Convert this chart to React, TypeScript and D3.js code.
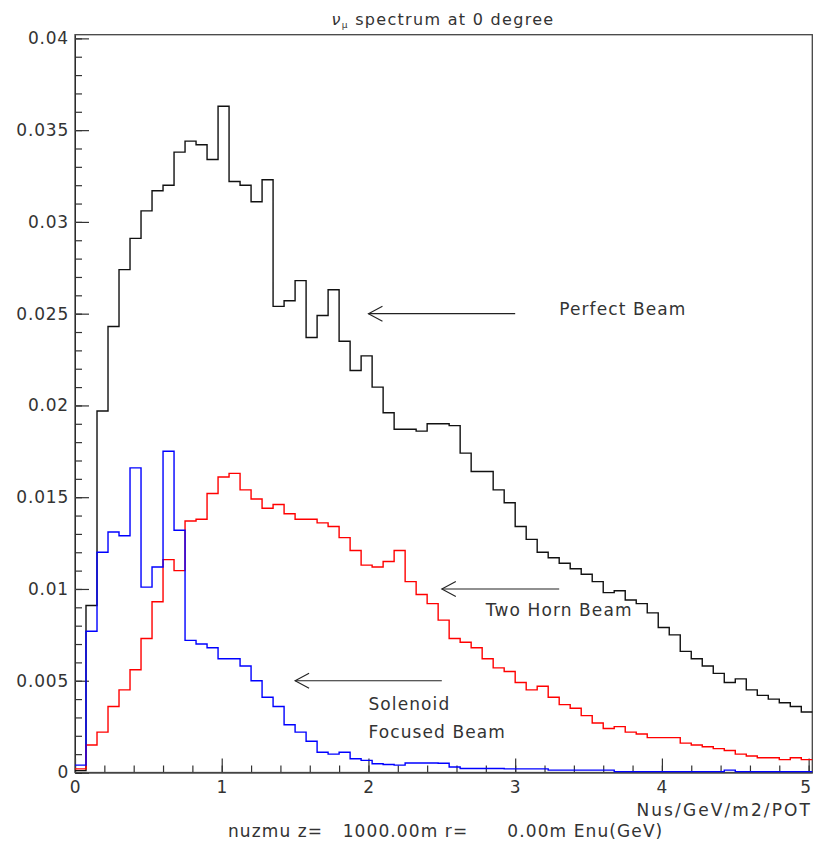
import React, { useEffect, useRef } from 'react';
import * as d3 from 'd3';

// histogram: 67 bins of 0.075 GeV starting at 0
const binWidth = 0.075;

const perfectBeam = [
  0.0001, 0.0091, 0.0197, 0.0243, 0.0274, 0.0291, 0.0306, 0.0317, 0.0320, 0.0338,
  0.0344, 0.0342, 0.0334, 0.0363, 0.0322, 0.0320, 0.0311, 0.0323, 0.0254, 0.0257,
  0.0268, 0.0237, 0.0249, 0.0263, 0.0235, 0.0219, 0.0227, 0.0210, 0.0196, 0.0187,
  0.0187, 0.0186, 0.0190, 0.0190, 0.0189, 0.0174, 0.0164, 0.0164, 0.0154, 0.0147,
  0.0134, 0.0127, 0.0120, 0.0117, 0.0114, 0.0111, 0.0108, 0.0104, 0.0098, 0.0099,
  0.0094, 0.0092, 0.0087, 0.0079, 0.0075, 0.0066, 0.0062, 0.0058, 0.0054, 0.0049,
  0.0051, 0.0045, 0.0042, 0.0040, 0.0038, 0.0036, 0.0033,
];

const twoHornBeam = [
  0.0002, 0.0015, 0.0022, 0.0036, 0.0045, 0.0056, 0.0073, 0.0093, 0.0116, 0.0110,
  0.0137, 0.0138, 0.0152, 0.0161, 0.0163, 0.0154, 0.0149, 0.0144, 0.0146, 0.0141,
  0.0138, 0.0138, 0.0136, 0.0134, 0.0128, 0.0121, 0.0113, 0.0112, 0.0115, 0.0121,
  0.0104, 0.0097, 0.0092, 0.0083, 0.0073, 0.0071, 0.0068, 0.0062, 0.0057, 0.0055,
  0.0049, 0.0045, 0.0047, 0.0041, 0.0037, 0.0035, 0.0031, 0.0027, 0.0024, 0.0025,
  0.0022, 0.0021, 0.0019, 0.0019, 0.0019, 0.0016, 0.0015, 0.0014, 0.0013, 0.0012,
  0.0010, 0.0009, 0.0008, 0.0008, 0.0007, 0.0008, 0.0007,
];

const solenoidBeam = [
  0.0004, 0.0077, 0.0120, 0.0131, 0.0129, 0.0166, 0.0101, 0.0112, 0.0175, 0.0132,
  0.0072, 0.0070, 0.0068, 0.0062, 0.0062, 0.0058, 0.0050, 0.0041, 0.0036, 0.0026,
  0.0022, 0.0017, 0.0011, 0.0010, 0.0011, 0.00075, 0.00066, 0.00048, 0.00044, 0.00040,
  0.00052, 0.00052, 0.00052, 0.00050, 0.00030, 0.00022, 0.00022, 0.00022, 0.00022, 0.00020,
  0.00020, 0.00020, 0.00020, 0.00013, 0.00013, 0.00013, 0.00013, 0.00013, 0.00013, 0.00005,
  0.00005, 0.00005, 0.00005, 0.00005, 0.00005, 0.00005, 0.00005, 0.00005, 0.00005, 0.00013,
  0.00005, 0.00005, 0.00005, 0.00005, 0.00005, 0.00005, 0.00005,
];

const yMajorTicks = [0, 0.005, 0.01, 0.015, 0.02, 0.025, 0.03, 0.035, 0.04];
const xMajorTicks = [0, 1, 2, 3, 4, 5];

// arrows (tail -> head) and their captions, in data coordinates
const arrows = [
  { x1: 3.0, x2: 2.0, y: 0.025 },
  { x1: 3.3, x2: 2.5, y: 0.01 },
  { x1: 2.5, x2: 1.5, y: 0.005 },
];
const captions = [
  { text: 'Perfect Beam', x: 3.3, y: 0.0249 },
  { text: 'Two Horn Beam', x: 2.8, y: 0.0085 },
  { text: 'Solenoid', x: 2.0, y: 0.0034 },
  { text: 'Focused Beam', x: 2.0, y: 0.0019 },
];

const W = 813, H = 844;
const margin = { top: 34.7, right: 0.7, bottom: 71.5, left: 75 };
const FONT = '"DejaVu Sans", sans-serif';
const INK = '#333';

export default function App() {
  const svgRef = useRef<SVGSVGElement>(null);

  useEffect(() => {
    const svg = d3.select(svgRef.current);
    svg.selectAll('*').remove();

    const width = W - margin.left - margin.right;
    const height = H - margin.top - margin.bottom;
    const xMax = perfectBeam.length * binWidth;
    const x = d3.scaleLinear().domain([0, xMax]).range([0, width]);
    const y = d3.scaleLinear().domain([0, 0.0402]).range([height, 0]);

    const g = svg.append('g').attr('transform', `translate(${margin.left},${margin.top})`);

    // minor ticks
    const yMinor = d3.range(0, 41).map((i) => i * 0.001);
    const xMinor = d3.range(0, 26).map((i) => i * 0.2);

    g.append('g')
      .call(d3.axisLeft(y).tickValues(yMinor).tickSizeInner(-7).tickSizeOuter(0).tickFormat(() => ''))
      .call((a) => a.select('.domain').remove());
    g.append('g')
      .attr('transform', `translate(0,${height})`)
      .call(d3.axisBottom(x).tickValues(xMinor).tickSizeInner(-7).tickSizeOuter(0).tickFormat(() => ''))
      .call((a) => a.select('.domain').remove());

    const yAxis = g.append('g')
      .call(d3.axisLeft(y).tickValues(yMajorTicks).tickSizeInner(-14).tickSizeOuter(0).tickPadding(6)
        .tickFormat((d) => String(+(+d).toFixed(3))));
    const xAxis = g.append('g')
      .attr('transform', `translate(0,${height})`)
      .call(d3.axisBottom(x).tickValues(xMajorTicks).tickSizeInner(-14).tickSizeOuter(0).tickPadding(8)
        .tickFormat(d3.format('d')));

    for (const ax of [yAxis, xAxis]) {
      ax.selectAll('text').attr('font-family', FONT).attr('font-size', 17).attr('fill', INK)
        .attr('letter-spacing', 0.8);
    }
    // the last x label sits against the right edge
    xAxis.selectAll<SVGTextElement, number>('text').attr('dx', (d) => (d === 5 ? -3 : 0));
    g.selectAll('.tick line').attr('stroke', INK).attr('stroke-width', 1.2);

    // frame
    g.append('rect')
      .attr('width', width).attr('height', height)
      .attr('fill', 'none').attr('stroke', '#444').attr('stroke-width', 1.3);

    // histograms
    const step = d3.line<[number, number]>()
      .x((d) => x(d[0]))
      .y((d) => y(d[1]))
      .curve(d3.curveStepAfter);
    const series = [
      { values: perfectBeam, color: '#111' },
      { values: twoHornBeam, color: '#f00' },
      { values: solenoidBeam, color: '#00f' },
    ];
    for (const s of series) {
      const pts: [number, number][] = s.values.map((v, i) => [i * binWidth, v]);
      pts.push([s.values.length * binWidth, s.values[s.values.length - 1]]);
      g.append('path')
        .attr('d', step(pts))
        .attr('fill', 'none')
        .attr('stroke', s.color)
        .attr('stroke-width', 1.4);
    }

    // arrows
    for (const a of arrows) {
      const hx = x(a.x2), hy = y(a.y);
      g.append('line')
        .attr('x1', x(a.x1)).attr('x2', hx).attr('y1', hy).attr('y2', hy)
        .attr('stroke', '#222').attr('stroke-width', 1.1);
      g.append('path')
        .attr('d', `M${hx + 14},${hy - 7.5}L${hx},${hy}L${hx + 14},${hy + 7.5}`)
        .attr('fill', 'none').attr('stroke', '#222').attr('stroke-width', 1.1);
    }

    g.selectAll('.caption')
      .data(captions)
      .join('text')
      .attr('class', 'caption')
      .attr('x', (d) => x(d.x))
      .attr('y', (d) => y(d.y))
      .attr('font-family', FONT).attr('font-size', 17).attr('fill', INK)
      .attr('letter-spacing', 1.1)
      .text((d) => d.text);

    // title
    const title = svg.append('text')
      .attr('x', 443).attr('y', 24.5)
      .attr('text-anchor', 'middle')
      .attr('font-family', FONT).attr('font-size', 16).attr('fill', INK)
      .attr('letter-spacing', 1.3);
    title.append('tspan').attr('font-style', 'italic').text('ν');
    title.append('tspan').attr('font-size', 9).attr('dy', 3).text('μ');
    title.append('tspan').attr('dy', -3).text(' spectrum at 0 degree');

    svg.append('text')
      .attr('x', 812).attr('y', 816)
      .attr('text-anchor', 'end')
      .attr('font-family', FONT).attr('font-size', 17).attr('fill', INK)
      .attr('letter-spacing', 2.1)
      .text('Nus/GeV/m2/POT');

    svg.append('text')
      .attr('x', 228).attr('y', 837)
      .attr('font-family', FONT).attr('font-size', 17).attr('fill', INK)
      .attr('letter-spacing', 1.1)
      .attr('xml:space', 'preserve')
      .style('white-space', 'pre')
      .text('nuzmu z=   1000.00m r=      0.00m Enu(GeV)');
  }, []);

  return (
    <svg
      ref={svgRef}
      width={W}
      height={H}
      style={{ position: 'absolute', left: 0, top: 0, background: '#fff' }}
    />
  );
}
